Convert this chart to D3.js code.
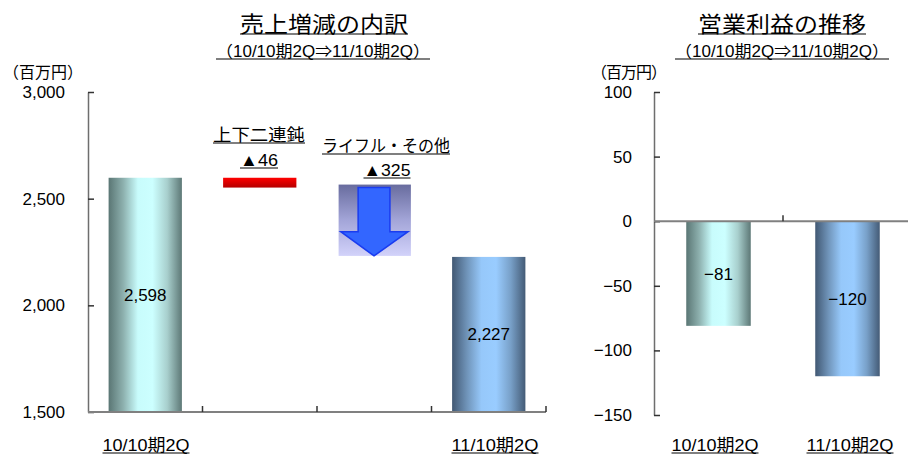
<!DOCTYPE html>
<html lang="ja">
<head>
  <meta charset="UTF-8">
  <title>売上増減の内訳 / 営業利益の推移</title>
  <script src="https://cdn.jsdelivr.net/npm/d3@7"></script>
  <style>
    body { margin: 0; background: #fff; }
    text { font-family: "Liberation Sans", Arial, "Noto Sans CJK JP", sans-serif; fill: #000; }
  </style>
</head>
<body>

  <script>
    ((window, document) => {
      "use strict";

      /**
       * -----------------------------------------------------------------------
       *  Data
       * -----------------------------------------------------------------------
       */
      const SALES_CATEGORIES = ["10/10期2Q", "上下二連鈍", "ライフル・その他", "11/10期2Q"];
      const SALES_TOTALS = [2598, 2227];              // first and last bar
      const SALES_STEPS = [-46, -325];                // waterfall steps
      const SALES_STEP_TEXTS = ["▲46", "▲325"];
      const SALES_TICKS = [1500, 2000, 2500, 3000];

      const PROFIT_CATEGORIES = ["10/10期2Q", "11/10期2Q"];
      const PROFIT_VALUES = [-81, -120];
      const PROFIT_TICKS = [100, 50, 0, -50, -100, -150];

      const SUBTITLE = "（10/10期2Q⇒11/10期2Q）";


      /**
       * -----------------------------------------------------------------------
       *  Render
       * -----------------------------------------------------------------------
       */
      let svg = d3.select("body").append("svg")
          .attr("width", 908)
          .attr("height", 457);

      let defs = svg.append("defs");
      hGradient("gTeal", ["#5a7674", "#8db0ae", "#c8fcfc", "#ccffff", "#a8cfcd", "#5d7876"]);
      hGradient("gBlue", ["#415873", "#6f93b8", "#96c8fa", "#99ccff", "#78a0c8", "#445b76"]);
      vGradient("gRed", ["#ff0000", "#b40000"]);
      vGradient("gBox", ["#686c9e", "#a3a5d8", "#d2d2fa"]);

      let fmt = d3.format(",");

      // ---- Left chart: 売上増減の内訳 --------------------------------------
      let x1 = d3.scaleBand(SALES_CATEGORIES, [88, 546]);
      let y1 = d3.scaleLinear([1500, 3000], [412, 92]);
      let w1 = x1.bandwidth() * 0.64;

      title(324, 32, "売上増減の内訳", 168);
      label(323, 57, SUBTITLE, 214, 16);
      svg.append("text").attr("x", 3).attr("y", 78)
          .attr("textLength", 80)
          .style("font-size", "16px").text("（百万円）");

      let left = svg.append("g");
      left.append("g")
          .attr("transform", "translate(88,0)")
          .call(d3.axisLeft(y1).tickValues(SALES_TICKS).tickFormat(fmt)
            .tickSizeInner(-6).tickSizeOuter(0).tickPadding(23))
          .call(styleAxis);

      let totalCats = [SALES_CATEGORIES[0], SALES_CATEGORIES[3]];
      left.selectAll("rect.bar").data(SALES_TOTALS).join("rect")
          .attr("class", "bar")
          .attr("x", (d, i) => x1(totalCats[i]) + (x1.bandwidth() - w1) / 2)
          .attr("y", d => y1(d))
          .attr("width", w1)
          .attr("height", d => y1(1500) - y1(d))
          .attr("fill", (d, i) => i === 0 ? "url(#gTeal)" : "url(#gBlue)");
      left.selectAll("text.val").data(SALES_TOTALS).join("text")
          .attr("class", "val")
          .attr("x", (d, i) => x1(totalCats[i]) + x1.bandwidth() / 2)
          .attr("y", d => (y1(d) + y1(1500)) / 2 + 6)
          .attr("text-anchor", "middle")
          .style("font-size", "17px")
          .text(fmt);

      // waterfall steps
      let level = SALES_TOTALS[0];
      SALES_STEPS.forEach((step, i) => {
        let cat = SALES_CATEGORIES[i + 1];
        let cx = x1(cat) + x1.bandwidth() / 2;
        let top = y1(level), bottom = y1(level + step);
        level += step;
        if (i === 0) {
          left.append("rect")
              .attr("x", cx - w1 / 2).attr("y", top)
              .attr("width", w1).attr("height", bottom - top)
              .attr("fill", "url(#gRed)");
        } else {
          drawArrow(cx - w1 / 2 + 1, top - 3, w1 - 1, bottom - top + 2);
        }
      });
      // step labels
      label(259, 141, SALES_CATEGORIES[1], 92, 17);
      label(259, 166, SALES_STEP_TEXTS[0], 38, 17);
      label(386, 152, SALES_CATEGORIES[2], 128, 17);
      label(387, 176, SALES_STEP_TEXTS[1], 47, 17);

      xAxis(left, x1, 412, 546);
      label(146, 451, SALES_CATEGORIES[0], 87, 17);
      label(495, 451, SALES_CATEGORIES[3], 87, 17);

      // ---- Right chart: 営業利益の推移 -------------------------------------
      let x2 = d3.scaleBand(PROFIT_CATEGORIES, [654, 912]);
      let y2 = d3.scaleLinear([-150, 100], [415, 92]);
      let w2 = x2.bandwidth() * 0.5;

      title(782, 32, "営業利益の推移", 168);
      label(782, 57, SUBTITLE, 214, 16);
      svg.append("text").attr("x", 629).attr("y", 78)
          .attr("text-anchor", "middle")
          .attr("textLength", 76)
          .style("font-size", "16px").text("（百万円）");

      let right = svg.append("g");
      right.append("g")
          .attr("transform", "translate(654,0)")
          .call(d3.axisLeft(y2).tickValues(PROFIT_TICKS).tickFormat(fmt)
            .tickSizeInner(-6).tickSizeOuter(0).tickPadding(22))
          .call(styleAxis);

      right.selectAll("rect.bar").data(PROFIT_VALUES).join("rect")
          .attr("class", "bar")
          .attr("x", (d, i) => x2(PROFIT_CATEGORIES[i]) + (x2.bandwidth() - w2) / 2)
          .attr("y", y2(0))
          .attr("width", w2)
          .attr("height", d => y2(d) - y2(0))
          .attr("fill", (d, i) => i === 0 ? "url(#gTeal)" : "url(#gBlue)");
      right.selectAll("text.val").data(PROFIT_VALUES).join("text")
          .attr("class", "val")
          .attr("x", (d, i) => x2(PROFIT_CATEGORIES[i]) + x2.bandwidth() / 2)
          .attr("y", d => (y2(d) + y2(0)) / 2 + 6)
          .attr("text-anchor", "middle")
          .style("font-size", "17px")
          .text(fmt);

      xAxis(right, x2, y2(0), 912);
      label(715, 451, PROFIT_CATEGORIES[0], 87, 17);
      label(850, 451, PROFIT_CATEGORIES[1], 87, 17);


      /**
       * -----------------------------------------------------------------------
       *  Function
       * -----------------------------------------------------------------------
       */
      function hGradient (id, colors) {
        let g = defs.append("linearGradient").attr("id", id)
            .attr("x1", 0).attr("x2", 1).attr("y1", 0).attr("y2", 0);
        colors.forEach((c, i) => g.append("stop")
            .attr("offset", i / (colors.length - 1)).attr("stop-color", c));
      }

      function vGradient (id, colors) {
        let g = defs.append("linearGradient").attr("id", id)
            .attr("x1", 0).attr("x2", 0).attr("y1", 0).attr("y2", 1);
        colors.forEach((c, i) => g.append("stop")
            .attr("offset", i / (colors.length - 1)).attr("stop-color", c));
      }

      function styleAxis (g) {
        g.select(".domain").attr("stroke", "#6e6e6e").attr("stroke-width", 1.5);
        g.selectAll(".tick line").attr("stroke", "#333").attr("stroke-width", 1.5);
        g.selectAll(".tick text")
            .style("font-size", "17px")
            .style("font-family", "'Liberation Sans', Arial, sans-serif")
            .attr("fill", "#000");
      }

      // category axis with boundary ticks pointing up
      function xAxis (g, x, y, end) {
        let x0 = x.range()[0];
        g.append("line")
            .attr("x1", x0).attr("x2", end).attr("y1", y).attr("y2", y)
            .attr("stroke", "#808080").attr("stroke-width", 2);
        let edges = x.domain().map(d => x(d) + x.step()).filter(v => v < 908);
        g.selectAll(null).data(edges).join("line")
            .attr("x1", d => d).attr("x2", d => d)
            .attr("y1", y).attr("y2", y - 6)
            .attr("stroke", "#333").attr("stroke-width", 1.5);
      }

      function title (cx, y, text, width) {
        label(cx, y, text, width, 22);
      }

      // centred, underlined text stretched to a known width
      function label (cx, y, text, width, size) {
        svg.append("text")
            .attr("x", cx).attr("y", y)
            .attr("text-anchor", "middle")
            .attr("textLength", width)
            .attr("lengthAdjust", "spacingAndGlyphs")
            .style("font-size", size + "px")
            .text(text);
        svg.append("line")
            .attr("x1", cx - width / 2).attr("x2", cx + width / 2)
            .attr("y1", y + 2).attr("y2", y + 2)
            .attr("stroke", "#000").attr("stroke-width", 1.2);
      }

      function drawArrow (x, y, w, h) {
        let g = svg.append("g").attr("transform", `translate(${x},${y})`);
        g.append("rect").attr("width", w).attr("height", h).attr("fill", "url(#gBox)");
        let sx0 = w * 0.27, sx1 = w * 0.71, hy = h * 0.66;
        let pts = [
          [sx0, h * 0.04], [sx1, h * 0.04], [sx1, hy], [w * 0.96, hy],
          [w * 0.49, h], [w * 0.03, hy], [sx0, hy]
        ];
        g.append("path")
            .attr("d", d3.line()(pts) + "Z")
            .attr("fill", "#3366ff")
            .attr("stroke", "#1a3cf0")
            .attr("stroke-width", 1.5);
      }

    })(window, document);
  </script>

</body>
</html>
